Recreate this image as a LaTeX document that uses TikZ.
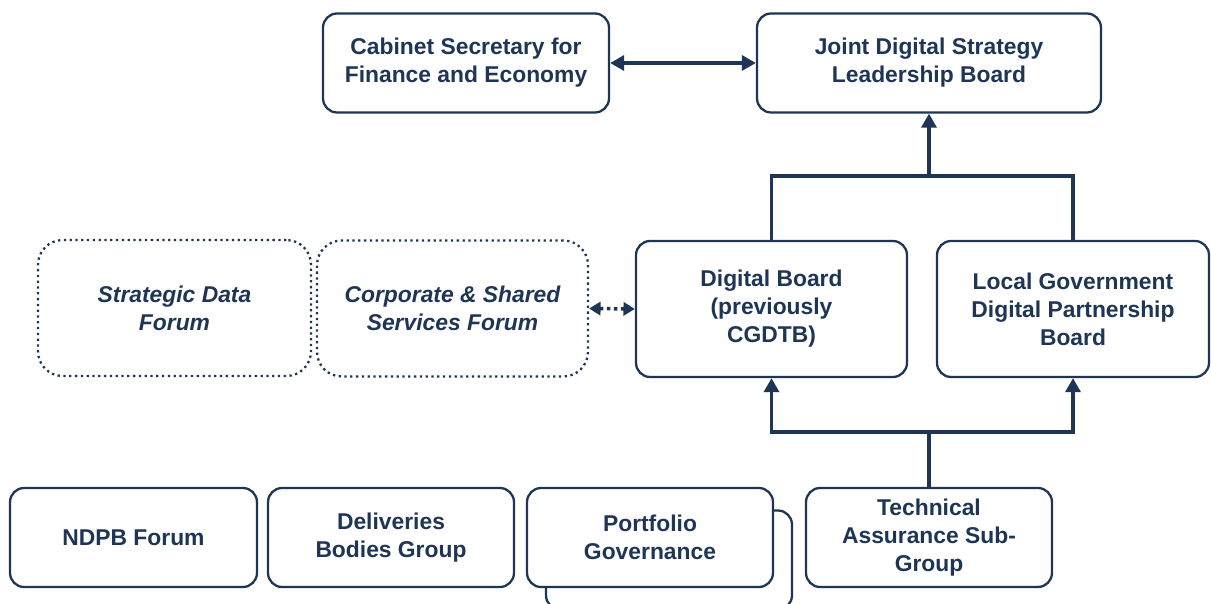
\documentclass[tikz,border=0pt]{standalone}
\usepackage{fontspec}
\setmainfont{Liberation Sans}
\usetikzlibrary{arrows.meta}
\definecolor{navy}{RGB}{31,53,86}

\begin{document}
\begin{tikzpicture}[x=0.02cm,y=-0.02cm,
    >={Triangle[length=8pt,width=8.5pt]},
    box/.style={draw=navy,line width=1.3pt,rounded corners=8pt,fill=white,text=navy,
      font=\bfseries\fontsize{13}{15.9}\selectfont,align=center,minimum height=1.98cm},
    forum/.style={box,dotted,rounded corners=14pt,
      font=\bfseries\itshape\fontsize{13}{15.9}\selectfont,minimum height=2.72cm},
    link/.style={draw=navy,line width=2pt}]
    \useasboundingbox (0,0) rectangle (1211,604);

    % top row
    \node [box,minimum width=5.72cm] (cab) at (466,63) {Cabinet Secretary for\\Finance and Economy};
    \node [box,minimum width=6.88cm] (joint) at (929,63) {Joint Digital Strategy\\Leadership Board};

    % middle row
    \node [forum,minimum width=5.46cm] (sdf) at (174.5,308) {Strategic Data\\Forum};
    \node [forum,minimum width=5.42cm] (csf) at (452.5,308.5) {Corporate \& Shared\\Services Forum};
    \node [box,minimum width=5.42cm,minimum height=2.72cm] (dig) at (771.5,309) {Digital Board\\(previously\\CGDTB)};
    \node [box,minimum width=5.44cm,minimum height=2.72cm] (lgd) at (1073,309) {Local Government\\Digital Partnership\\Board};

    % bottom row
    \node [box,minimum width=4.94cm] (ndpb) at (133.5,537.5) {NDPB Forum};
    \node [box,minimum width=4.92cm] (dbg) at (391,537.5) {Deliveries\\Bodies Group};
    \node [box,minimum width=4.92cm] (pgback) at (669,560) {};
    \node [box,minimum width=4.92cm] (pg) at (650,537.5) {Portfolio\\Governance};
    \node [box,minimum width=4.92cm] (tech) at (929,537.5) {Technical\\Assurance Sub-\\Group};

    \coordinate (top) at (929,176);
    \coordinate (bot) at (929,432);

    % connectors
    \draw [link,<->] (cab) -- (joint);
    \draw [link] (dig.north) |- (top) -| (lgd.north);
    \draw [link,->] (top) -- (joint.south);
    \draw [link] (tech.north) -- (bot);
    \draw [link,->] (bot) -| (dig.south);
    \draw [link,->] (bot) -| (lgd.south);
    \draw [link,dotted,{Triangle[length=6.5pt,width=7.5pt]}-{Triangle[length=6.5pt,width=7.5pt]}] (csf.east) -- (dig.west);
\end{tikzpicture}
\end{document}
